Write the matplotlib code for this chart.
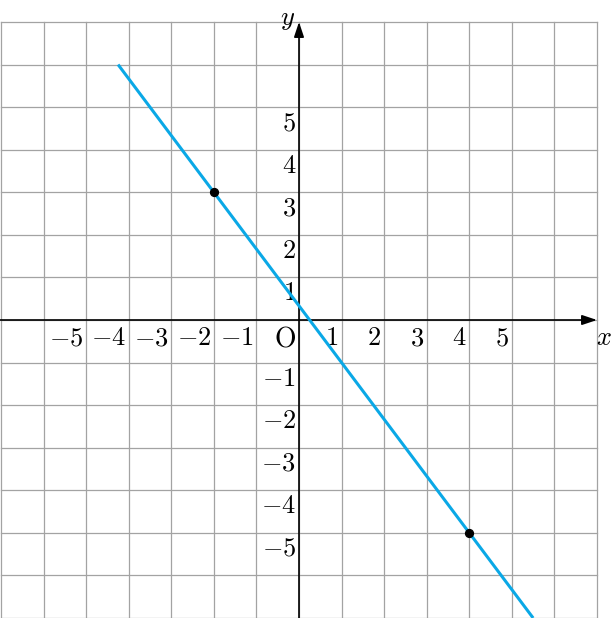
import matplotlib
matplotlib.use("Agg")
import matplotlib.pyplot as plt
import numpy as np

plt.rcParams['mathtext.fontset'] = 'cm'
plt.rcParams['font.family'] = ['DejaVu Serif']

# Data
grid_min, grid_max = -7, 7
x_ticks = [-5, -4, -3, -2, -1, 1, 2, 3, 4, 5]
y_ticks = [5, 4, 3, 2, 1, -1, -2, -3, -4, -5]
line_x = [-4.25, 5.5]
line_y = [6.0, -7.0]
pts_x = [-2, 4]
pts_y = [3, -5]

W, H = 611, 618
fig = plt.figure(figsize=(W / 100, H / 100), dpi=100)
ax = fig.add_axes([0, 0, 1, 1])
cell = 596 / 14.0
ox, oy = 299, 320
ax.set_xlim(-ox / cell, (W - ox) / cell)
ax.set_ylim(-(H - oy) / cell, oy / cell)
ax.axis('off')

gc = '#a3a3a3'
for v in range(grid_min, grid_max + 1):
    ax.plot([v, v], [grid_min, grid_max], color=gc, lw=0.9, zorder=1)
    ax.plot([grid_min, grid_max], [v, v], color=gc, lw=0.9, zorder=1)

# axes with arrows
ax.annotate('', xy=(7, 0), xytext=(ax.get_xlim()[0], 0),
            arrowprops=dict(arrowstyle='-|>,head_length=0.9,head_width=0.3',
                            color='black', lw=1.2, shrinkA=0, shrinkB=0), zorder=3)
ax.annotate('', xy=(0, 7), xytext=(0, ax.get_ylim()[0]),
            arrowprops=dict(arrowstyle='-|>,head_length=0.9,head_width=0.3',
                            color='black', lw=1.2, shrinkA=0, shrinkB=0), zorder=3)

fs = 19
for t in x_ticks:
    ax.text(t - 0.07, -0.12, r'$%d$' % t if t > 0 else r'$-%d$' % (-t),
            ha='right', va='top', fontsize=fs, zorder=4)
for t in y_ticks:
    ax.text(-0.07, t - 0.07, r'$%d$' % t if t > 0 else r'$-%d$' % (-t),
            ha='right', va='top', fontsize=fs, zorder=4)
ax.text(-0.07, -0.12, r'$\mathrm{O}$', ha='right', va='top', fontsize=fs + 1, zorder=4)
ax.text(6.98, -0.12, r'$x$', ha='left', va='top', fontsize=fs, zorder=4)
ax.text(-0.1, 7.05, r'$y$', ha='right', va='center', fontsize=fs, zorder=4)

ax.plot(line_x, line_y, color='#0aa8e6', lw=2.2, solid_capstyle='butt', zorder=5)
ax.scatter(pts_x, pts_y, s=32, color='black', zorder=6)

fig.savefig('out.png', dpi=100)
